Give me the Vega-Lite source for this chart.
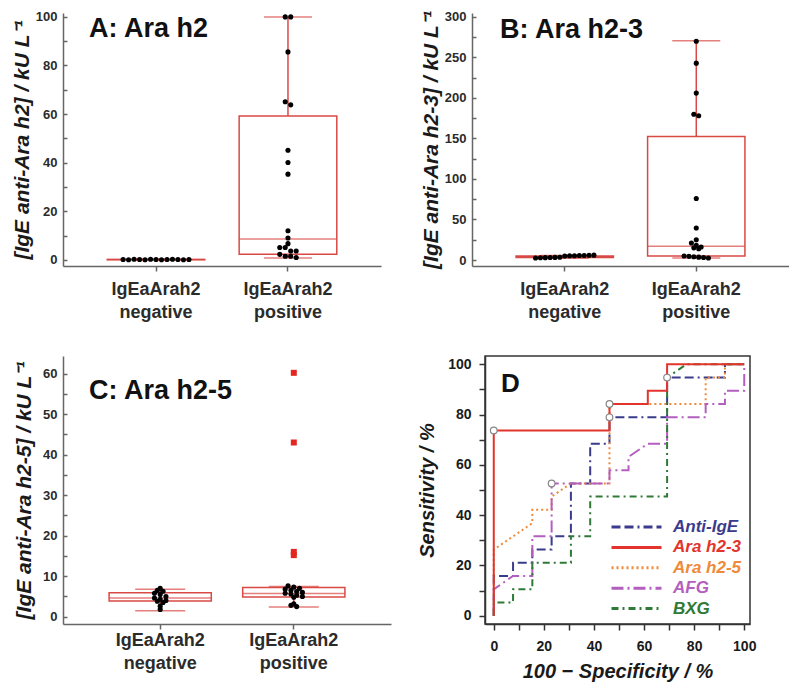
{
  "$schema": "https://vega.github.io/schema/vega-lite/v6.json",
  "background": "white",
  "padding": {"left": 11, "top": 10, "right": 0, "bottom": 0},
  "config": {
    "font": "Liberation Sans",
    "view": {"stroke": null},
    "axis": {"labelFont": "Liberation Sans", "labelFontWeight": "bold", "titleFont": "Liberation Sans", "titleFontWeight": "bold", "domainColor": "#666", "tickColor": "#666", "labelColor": "#2b2b2b", "titleColor": "#1a1a1a", "grid": false, "domainWidth": 1.5, "tickWidth": 1.5, "labelFlush": false, "labelOverlap": false, "labelBound": false},
    "title": {"font": "Liberation Sans", "fontWeight": "bold", "color": "#111"}
  },
  "datasets": {
    "pts": [
      {"panel": "A", "group": "negative", "value": 0.2}, {"panel": "A", "group": "negative", "value": 0.1}, {"panel": "A", "group": "negative", "value": 0.3}, {"panel": "A", "group": "negative", "value": 0.2}, {"panel": "A", "group": "negative", "value": 0.1}, {"panel": "A", "group": "negative", "value": 0.3}, {"panel": "A", "group": "negative", "value": 0.2}, {"panel": "A", "group": "negative", "value": 0.1}, {"panel": "A", "group": "negative", "value": 0.2}, {"panel": "A", "group": "negative", "value": 0.3}, {"panel": "A", "group": "negative", "value": 0.2}, {"panel": "A", "group": "negative", "value": 0.1}, {"panel": "A", "group": "negative", "value": 0.2},
      {"panel": "A", "group": "positive", "value": 100}, {"panel": "A", "group": "positive", "value": 100}, {"panel": "A", "group": "positive", "value": 85.6}, {"panel": "A", "group": "positive", "value": 65.1}, {"panel": "A", "group": "positive", "value": 63.8}, {"panel": "A", "group": "positive", "value": 45.1}, {"panel": "A", "group": "positive", "value": 40.1}, {"panel": "A", "group": "positive", "value": 35.3}, {"panel": "A", "group": "positive", "value": 12}, {"panel": "A", "group": "positive", "value": 9}, {"panel": "A", "group": "positive", "value": 6.7}, {"panel": "A", "group": "positive", "value": 5.1}, {"panel": "A", "group": "positive", "value": 5.1}, {"panel": "A", "group": "positive", "value": 3.7}, {"panel": "A", "group": "positive", "value": 3.7}, {"panel": "A", "group": "positive", "value": 2.3}, {"panel": "A", "group": "positive", "value": 1.5}, {"panel": "A", "group": "positive", "value": 1.5}, {"panel": "A", "group": "positive", "value": 1.0},
      {"panel": "B", "group": "negative", "value": 2.5}, {"panel": "B", "group": "negative", "value": 2.7}, {"panel": "B", "group": "negative", "value": 2.9}, {"panel": "B", "group": "negative", "value": 3.0}, {"panel": "B", "group": "negative", "value": 3.2}, {"panel": "B", "group": "negative", "value": 3.4}, {"panel": "B", "group": "negative", "value": 5.0}, {"panel": "B", "group": "negative", "value": 5.2}, {"panel": "B", "group": "negative", "value": 5.3}, {"panel": "B", "group": "negative", "value": 5.5}, {"panel": "B", "group": "negative", "value": 5.6}, {"panel": "B", "group": "negative", "value": 5.8}, {"panel": "B", "group": "negative", "value": 6.0},
      {"panel": "B", "group": "positive", "value": 270}, {"panel": "B", "group": "positive", "value": 243}, {"panel": "B", "group": "positive", "value": 206}, {"panel": "B", "group": "positive", "value": 180}, {"panel": "B", "group": "positive", "value": 178}, {"panel": "B", "group": "positive", "value": 76}, {"panel": "B", "group": "positive", "value": 39.5}, {"panel": "B", "group": "positive", "value": 25}, {"panel": "B", "group": "positive", "value": 21}, {"panel": "B", "group": "positive", "value": 18}, {"panel": "B", "group": "positive", "value": 16}, {"panel": "B", "group": "positive", "value": 15}, {"panel": "B", "group": "positive", "value": 14}, {"panel": "B", "group": "positive", "value": 5}, {"panel": "B", "group": "positive", "value": 4.5}, {"panel": "B", "group": "positive", "value": 4}, {"panel": "B", "group": "positive", "value": 3.5}, {"panel": "B", "group": "positive", "value": 3}, {"panel": "B", "group": "positive", "value": 2.5},
      {"panel": "C", "group": "negative", "value": 7.0}, {"panel": "C", "group": "negative", "value": 6.5}, {"panel": "C", "group": "negative", "value": 6.3}, {"panel": "C", "group": "negative", "value": 5.8}, {"panel": "C", "group": "negative", "value": 5.5}, {"panel": "C", "group": "negative", "value": 5.0}, {"panel": "C", "group": "negative", "value": 4.6}, {"panel": "C", "group": "negative", "value": 4.3}, {"panel": "C", "group": "negative", "value": 4.0}, {"panel": "C", "group": "negative", "value": 3.8}, {"panel": "C", "group": "negative", "value": 3.5}, {"panel": "C", "group": "negative", "value": 2.6}, {"panel": "C", "group": "negative", "value": 1.8},
      {"panel": "C", "group": "positive", "value": 7.6}, {"panel": "C", "group": "positive", "value": 7.3}, {"panel": "C", "group": "positive", "value": 7.0}, {"panel": "C", "group": "positive", "value": 6.8}, {"panel": "C", "group": "positive", "value": 6.5}, {"panel": "C", "group": "positive", "value": 6.2}, {"panel": "C", "group": "positive", "value": 6.0}, {"panel": "C", "group": "positive", "value": 5.8}, {"panel": "C", "group": "positive", "value": 5.6}, {"panel": "C", "group": "positive", "value": 5.3}, {"panel": "C", "group": "positive", "value": 5.0}, {"panel": "C", "group": "positive", "value": 4.8}, {"panel": "C", "group": "positive", "value": 3.2}, {"panel": "C", "group": "positive", "value": 2.8}, {"panel": "C", "group": "positive", "value": 2.5}
    ],
    "box": [
      {"panel": "A", "group": "negative", "lower": 0.0, "q1": 0.1, "median": 0.2, "q3": 0.2, "upper": 0.3},
      {"panel": "A", "group": "positive", "lower": 0.8, "q1": 2.3, "median": 8.6, "q3": 59.2, "upper": 100},
      {"panel": "B", "group": "negative", "lower": 2.3, "q1": 3.0, "median": 4.0, "q3": 5.0, "upper": 5.5},
      {"panel": "B", "group": "positive", "lower": 2.5, "q1": 5.0, "median": 17, "q3": 152.5, "upper": 270.5},
      {"panel": "C", "group": "negative", "lower": 1.5, "q1": 3.9, "median": 4.6, "q3": 5.9, "upper": 6.8},
      {"panel": "C", "group": "positive", "lower": 2.4, "q1": 4.85, "median": 5.75, "q3": 7.2, "upper": 7.45}
    ],
    "outl": [
      {"panel": "C", "group": "positive", "value": 60.2},
      {"panel": "C", "group": "positive", "value": 43.0},
      {"panel": "C", "group": "positive", "value": 16.0},
      {"panel": "C", "group": "positive", "value": 15.2}
    ],
    "roc": [
      {"test": "Anti-IgE", "i": 0, "fpr": 0, "sens": 0}, {"test": "Anti-IgE", "i": 1, "fpr": 0, "sens": 15.8}, {"test": "Anti-IgE", "i": 2, "fpr": 7.7, "sens": 15.8}, {"test": "Anti-IgE", "i": 3, "fpr": 7.7, "sens": 21.1}, {"test": "Anti-IgE", "i": 4, "fpr": 15.4, "sens": 21.1}, {"test": "Anti-IgE", "i": 5, "fpr": 15.4, "sens": 26.3}, {"test": "Anti-IgE", "i": 6, "fpr": 23.1, "sens": 26.3}, {"test": "Anti-IgE", "i": 7, "fpr": 23.1, "sens": 31.6}, {"test": "Anti-IgE", "i": 8, "fpr": 30.8, "sens": 31.6}, {"test": "Anti-IgE", "i": 9, "fpr": 30.8, "sens": 52.6}, {"test": "Anti-IgE", "i": 10, "fpr": 38.5, "sens": 52.6}, {"test": "Anti-IgE", "i": 11, "fpr": 38.5, "sens": 68.4}, {"test": "Anti-IgE", "i": 12, "fpr": 46.2, "sens": 68.4}, {"test": "Anti-IgE", "i": 13, "fpr": 46.2, "sens": 78.9}, {"test": "Anti-IgE", "i": 14, "fpr": 69.2, "sens": 78.9}, {"test": "Anti-IgE", "i": 15, "fpr": 69.2, "sens": 94.7}, {"test": "Anti-IgE", "i": 16, "fpr": 92.3, "sens": 94.7}, {"test": "Anti-IgE", "i": 17, "fpr": 92.3, "sens": 100}, {"test": "Anti-IgE", "i": 18, "fpr": 100, "sens": 100},
      {"test": "Ara h2-5", "i": 0, "fpr": 0, "sens": 0}, {"test": "Ara h2-5", "i": 1, "fpr": 0, "sens": 26.3}, {"test": "Ara h2-5", "i": 2, "fpr": 15.4, "sens": 36.8}, {"test": "Ara h2-5", "i": 3, "fpr": 15.4, "sens": 42.1}, {"test": "Ara h2-5", "i": 4, "fpr": 23.1, "sens": 42.1}, {"test": "Ara h2-5", "i": 5, "fpr": 23.1, "sens": 47.4}, {"test": "Ara h2-5", "i": 6, "fpr": 30.8, "sens": 52.6}, {"test": "Ara h2-5", "i": 7, "fpr": 46.2, "sens": 52.6}, {"test": "Ara h2-5", "i": 8, "fpr": 46.2, "sens": 84.2}, {"test": "Ara h2-5", "i": 9, "fpr": 84.6, "sens": 84.2}, {"test": "Ara h2-5", "i": 10, "fpr": 84.6, "sens": 94.7}, {"test": "Ara h2-5", "i": 11, "fpr": 92.3, "sens": 94.7}, {"test": "Ara h2-5", "i": 12, "fpr": 92.3, "sens": 100}, {"test": "Ara h2-5", "i": 13, "fpr": 100, "sens": 100},
      {"test": "AFG", "i": 0, "fpr": 0, "sens": 0}, {"test": "AFG", "i": 1, "fpr": 0, "sens": 10.5}, {"test": "AFG", "i": 2, "fpr": 7.7, "sens": 15.8}, {"test": "AFG", "i": 3, "fpr": 15.4, "sens": 15.8}, {"test": "AFG", "i": 4, "fpr": 15.4, "sens": 31.6}, {"test": "AFG", "i": 5, "fpr": 23.1, "sens": 31.6}, {"test": "AFG", "i": 6, "fpr": 23.1, "sens": 52.6}, {"test": "AFG", "i": 7, "fpr": 46.2, "sens": 52.6}, {"test": "AFG", "i": 8, "fpr": 46.2, "sens": 57.9}, {"test": "AFG", "i": 9, "fpr": 53.8, "sens": 57.9}, {"test": "AFG", "i": 10, "fpr": 53.8, "sens": 63.2}, {"test": "AFG", "i": 11, "fpr": 61.5, "sens": 68.4}, {"test": "AFG", "i": 12, "fpr": 69.2, "sens": 68.4}, {"test": "AFG", "i": 13, "fpr": 69.2, "sens": 78.9}, {"test": "AFG", "i": 14, "fpr": 84.6, "sens": 78.9}, {"test": "AFG", "i": 15, "fpr": 84.6, "sens": 84.2}, {"test": "AFG", "i": 16, "fpr": 92.3, "sens": 84.2}, {"test": "AFG", "i": 17, "fpr": 92.3, "sens": 89.5}, {"test": "AFG", "i": 18, "fpr": 100, "sens": 89.5}, {"test": "AFG", "i": 19, "fpr": 100, "sens": 100},
      {"test": "BXG", "i": 0, "fpr": 0, "sens": 0}, {"test": "BXG", "i": 1, "fpr": 0, "sens": 5.3}, {"test": "BXG", "i": 2, "fpr": 7.7, "sens": 5.3}, {"test": "BXG", "i": 3, "fpr": 7.7, "sens": 10.5}, {"test": "BXG", "i": 4, "fpr": 15.4, "sens": 10.5}, {"test": "BXG", "i": 5, "fpr": 15.4, "sens": 21.1}, {"test": "BXG", "i": 6, "fpr": 30.8, "sens": 21.1}, {"test": "BXG", "i": 7, "fpr": 30.8, "sens": 31.6}, {"test": "BXG", "i": 8, "fpr": 38.5, "sens": 31.6}, {"test": "BXG", "i": 9, "fpr": 38.5, "sens": 47.4}, {"test": "BXG", "i": 10, "fpr": 69.2, "sens": 47.4}, {"test": "BXG", "i": 11, "fpr": 69.2, "sens": 94.7}, {"test": "BXG", "i": 12, "fpr": 76.9, "sens": 100}, {"test": "BXG", "i": 13, "fpr": 100, "sens": 100},
      {"test": "Ara h2-3", "i": 0, "fpr": 0, "sens": 0}, {"test": "Ara h2-3", "i": 1, "fpr": 0, "sens": 73.7}, {"test": "Ara h2-3", "i": 2, "fpr": 46.2, "sens": 73.7}, {"test": "Ara h2-3", "i": 3, "fpr": 46.2, "sens": 84.2}, {"test": "Ara h2-3", "i": 4, "fpr": 61.5, "sens": 84.2}, {"test": "Ara h2-3", "i": 5, "fpr": 61.5, "sens": 89.5}, {"test": "Ara h2-3", "i": 6, "fpr": 69.2, "sens": 89.5}, {"test": "Ara h2-3", "i": 7, "fpr": 69.2, "sens": 100}, {"test": "Ara h2-3", "i": 8, "fpr": 100, "sens": 100}
    ],
    "cut": [
      {"test": "Ara h2-3", "fpr": 0, "sens": 73.7},
      {"test": "Ara h2-3", "fpr": 46.2, "sens": 84.2},
      {"test": "Anti-IgE", "fpr": 46.2, "sens": 78.9},
      {"test": "AFG", "fpr": 23.1, "sens": 52.6},
      {"test": "BXG", "fpr": 69.2, "sens": 94.7}
    ]
  },
  "spacing": 34,
  "vconcat": [
    {
      "spacing": 39,
      "hconcat": [
        {
          "width": 318, "height": 253,
          "title": {"text": "A: Ara h2", "anchor": "start", "frame": "group", "offset": -32, "dx": 26, "fontSize": 27},
          "resolve": {"scale": {"xOffset": "independent"}},
          "encoding": {
            "x": {"field": "group", "type": "nominal", "scale": {"type": "band", "domain": ["negative", "positive"], "paddingInner": 0.26, "paddingOuter": 0.335}, "axis": {"title": null, "labelExpr": "['IgEaArah2', datum.label]", "labelAngle": 0, "labelFontSize": 18, "labelLineHeight": 23, "labelPadding": 9, "tickSize": 5}}
          },
          "layer": [
            {"data": {"name": "box"}, "transform": [{"filter": "datum.panel == 'A'"}], "mark": {"type": "rule", "color": "#d94a45", "strokeWidth": 1.5},
             "encoding": {"y": {"field": "lower", "type": "quantitative", "scale": {"domain": [-2.5, 101.6], "nice": false, "zero": false}, "axis": {"title": "[IgE anti-Ara h2] / kU L⁻¹", "titleFontStyle": "italic", "titleFontSize": 21, "titlePadding": 3, "values": [0, 10, 20, 30, 40, 50, 60, 70, 80, 90, 100], "labelExpr": "datum.value % 20 == 0 ? datum.label : ''", "labelFontSize": 13, "tickSize": -4, "labelPadding": 10}}, "y2": {"field": "upper"}}},
            {"data": {"name": "box"}, "transform": [{"filter": "datum.panel == 'A'"}, {"fold": ["lower", "upper"], "as": ["stat", "yv"]}], "mark": {"type": "tick", "color": "#d94a45", "thickness": 1.5, "size": 48},
             "encoding": {"y": {"field": "yv", "type": "quantitative", "scale": {"domain": [-2.5, 101.6], "nice": false, "zero": false}, "axis": {"title": "[IgE anti-Ara h2] / kU L⁻¹", "titleFontStyle": "italic", "titleFontSize": 21, "titlePadding": 3, "values": [0, 10, 20, 30, 40, 50, 60, 70, 80, 90, 100], "labelExpr": "datum.value % 20 == 0 ? datum.label : ''", "labelFontSize": 13, "tickSize": -4, "labelPadding": 10}}}},
            {"data": {"name": "box"}, "transform": [{"filter": "datum.panel == 'A'"}], "mark": {"type": "bar", "fill": "white", "stroke": "#d94a45", "strokeWidth": 1.5, "width": {"band": 1}},
             "encoding": {"y": {"field": "q1", "type": "quantitative", "scale": {"domain": [-2.5, 101.6], "nice": false, "zero": false}, "axis": {"title": "[IgE anti-Ara h2] / kU L⁻¹", "titleFontStyle": "italic", "titleFontSize": 21, "titlePadding": 3, "values": [0, 10, 20, 30, 40, 50, 60, 70, 80, 90, 100], "labelExpr": "datum.value % 20 == 0 ? datum.label : ''", "labelFontSize": 13, "tickSize": -4, "labelPadding": 10}}, "y2": {"field": "q3"}}},
            {"data": {"name": "box"}, "transform": [{"filter": "datum.panel == 'A'"}], "mark": {"type": "tick", "color": "#d94a45", "thickness": 1.5, "size": 98},
             "encoding": {"y": {"field": "median", "type": "quantitative", "scale": {"domain": [-2.5, 101.6], "nice": false, "zero": false}, "axis": {"title": "[IgE anti-Ara h2] / kU L⁻¹", "titleFontStyle": "italic", "titleFontSize": 21, "titlePadding": 3, "values": [0, 10, 20, 30, 40, 50, 60, 70, 80, 90, 100], "labelExpr": "datum.value % 20 == 0 ? datum.label : ''", "labelFontSize": 13, "tickSize": -4, "labelPadding": 10}}}},
            {"data": {"name": "pts"}, "transform": [{"filter": "datum.panel == 'A'"}, {"bin": {"step": 3}, "field": "value", "as": "vb"}, {"window": [{"op": "row_number", "as": "r"}], "groupby": ["group", "vb"]}, {"joinaggregate": [{"op": "count", "as": "n"}], "groupby": ["group", "vb"]}, {"calculate": "datum.r - (datum.n + 1) / 2", "as": "off"}],
             "mark": {"type": "circle", "size": 26, "color": "#000", "opacity": 1},
             "encoding": {"xOffset": {"field": "off", "type": "quantitative", "scale": {"domain": [-8.9, 8.9]}}, "y": {"field": "value", "type": "quantitative", "scale": {"domain": [-2.5, 101.6], "nice": false, "zero": false}, "axis": {"title": "[IgE anti-Ara h2] / kU L⁻¹", "titleFontStyle": "italic", "titleFontSize": 21, "titlePadding": 3, "values": [0, 10, 20, 30, 40, 50, 60, 70, 80, 90, 100], "labelExpr": "datum.value % 20 == 0 ? datum.label : ''", "labelFontSize": 13, "tickSize": -4, "labelPadding": 10}}}}
          ]
        },
        {
          "width": 317, "height": 253,
          "title": {"text": "B: Ara h2-3", "anchor": "start", "frame": "group", "offset": -33, "dx": 28, "fontSize": 27},
          "resolve": {"scale": {"xOffset": "independent"}},
          "encoding": {
            "x": {"field": "group", "type": "nominal", "scale": {"type": "band", "domain": ["negative", "positive"], "paddingInner": 0.26, "paddingOuter": 0.335}, "axis": {"title": null, "labelExpr": "['IgEaArah2', datum.label]", "labelAngle": 0, "labelFontSize": 18, "labelLineHeight": 23, "labelPadding": 9, "tickSize": 5}}
          },
          "layer": [
            {"data": {"name": "box"}, "transform": [{"filter": "datum.panel == 'B'"}], "mark": {"type": "rule", "color": "#d94a45", "strokeWidth": 1.5},
             "encoding": {"y": {"field": "lower", "type": "quantitative", "scale": {"domain": [-7.4, 304.9], "nice": false, "zero": false}, "axis": {"title": "[IgE anti-Ara h2-3] / kU L⁻¹", "titleFontStyle": "italic", "titleFontSize": 21, "titlePadding": 3, "values": [0, 25, 50, 75, 100, 125, 150, 175, 200, 225, 250, 275, 300], "labelExpr": "datum.value % 50 == 0 ? datum.label : ''", "labelFontSize": 13, "tickSize": -4, "labelPadding": 10}}, "y2": {"field": "upper"}}},
            {"data": {"name": "box"}, "transform": [{"filter": "datum.panel == 'B'"}, {"fold": ["lower", "upper"], "as": ["stat", "yv"]}], "mark": {"type": "tick", "color": "#d94a45", "thickness": 1.5, "size": 48},
             "encoding": {"y": {"field": "yv", "type": "quantitative", "scale": {"domain": [-7.4, 304.9], "nice": false, "zero": false}, "axis": {"title": "[IgE anti-Ara h2-3] / kU L⁻¹", "titleFontStyle": "italic", "titleFontSize": 21, "titlePadding": 3, "values": [0, 25, 50, 75, 100, 125, 150, 175, 200, 225, 250, 275, 300], "labelExpr": "datum.value % 50 == 0 ? datum.label : ''", "labelFontSize": 13, "tickSize": -4, "labelPadding": 10}}}},
            {"data": {"name": "box"}, "transform": [{"filter": "datum.panel == 'B'"}], "mark": {"type": "bar", "fill": "white", "stroke": "#d94a45", "strokeWidth": 1.5, "width": {"band": 1}},
             "encoding": {"y": {"field": "q1", "type": "quantitative", "scale": {"domain": [-7.4, 304.9], "nice": false, "zero": false}, "axis": {"title": "[IgE anti-Ara h2-3] / kU L⁻¹", "titleFontStyle": "italic", "titleFontSize": 21, "titlePadding": 3, "values": [0, 25, 50, 75, 100, 125, 150, 175, 200, 225, 250, 275, 300], "labelExpr": "datum.value % 50 == 0 ? datum.label : ''", "labelFontSize": 13, "tickSize": -4, "labelPadding": 10}}, "y2": {"field": "q3"}}},
            {"data": {"name": "box"}, "transform": [{"filter": "datum.panel == 'B'"}], "mark": {"type": "tick", "color": "#d94a45", "thickness": 1.5, "size": 97},
             "encoding": {"y": {"field": "median", "type": "quantitative", "scale": {"domain": [-7.4, 304.9], "nice": false, "zero": false}, "axis": {"title": "[IgE anti-Ara h2-3] / kU L⁻¹", "titleFontStyle": "italic", "titleFontSize": 21, "titlePadding": 3, "values": [0, 25, 50, 75, 100, 125, 150, 175, 200, 225, 250, 275, 300], "labelExpr": "datum.value % 50 == 0 ? datum.label : ''", "labelFontSize": 13, "tickSize": -4, "labelPadding": 10}}}},
            {"data": {"name": "pts"}, "transform": [{"filter": "datum.panel == 'B'"}, {"bin": {"step": 8}, "field": "value", "as": "vb"}, {"window": [{"op": "row_number", "as": "r"}], "groupby": ["group", "vb"]}, {"joinaggregate": [{"op": "count", "as": "n"}], "groupby": ["group", "vb"]}, {"calculate": "datum.r - (datum.n + 1) / 2", "as": "off"}],
             "mark": {"type": "circle", "size": 26, "color": "#000", "opacity": 1},
             "encoding": {"xOffset": {"field": "off", "type": "quantitative", "scale": {"domain": [-10, 10]}}, "y": {"field": "value", "type": "quantitative", "scale": {"domain": [-7.4, 304.9], "nice": false, "zero": false}, "axis": {"title": "[IgE anti-Ara h2-3] / kU L⁻¹", "titleFontStyle": "italic", "titleFontSize": 21, "titlePadding": 3, "values": [0, 25, 50, 75, 100, 125, 150, 175, 200, 225, 250, 275, 300], "labelExpr": "datum.value % 50 == 0 ? datum.label : ''", "labelFontSize": 13, "tickSize": -4, "labelPadding": 10}}}}
          ]
        }
      ]
    },
    {
      "spacing": 25,
      "hconcat": [
        {
          "width": 328, "height": 268,
          "title": {"text": "C: Ara h2-5", "anchor": "start", "frame": "group", "offset": -49, "dx": 26, "fontSize": 27},
          "resolve": {"scale": {"xOffset": "independent"}},
          "encoding": {
            "x": {"field": "group", "type": "nominal", "scale": {"type": "band", "domain": ["negative", "positive"], "paddingInner": 0.235, "paddingOuter": 0.345}, "axis": {"title": null, "labelExpr": "['IgEaArah2', datum.label]", "labelAngle": 0, "labelFontSize": 18, "labelLineHeight": 23, "labelPadding": 2, "tickSize": 5}}
          },
          "layer": [
            {"data": {"name": "box"}, "transform": [{"filter": "datum.panel == 'C'"}], "mark": {"type": "rule", "color": "#d94a45", "strokeWidth": 1.5},
             "encoding": {"y": {"field": "lower", "type": "quantitative", "scale": {"domain": [-1.8, 64.35], "nice": false, "zero": false}, "axis": {"title": "[IgE anti-Ara h2-5] / kU L⁻¹", "titleFontStyle": "italic", "titleFontSize": 21, "titlePadding": 8, "values": [0, 5, 10, 15, 20, 25, 30, 35, 40, 45, 50, 55, 60], "labelExpr": "datum.value % 10 == 0 ? datum.label : ''", "labelFontSize": 13, "tickSize": -4, "labelPadding": 10}}, "y2": {"field": "upper"}}},
            {"data": {"name": "box"}, "transform": [{"filter": "datum.panel == 'C'"}, {"fold": ["lower", "upper"], "as": ["stat", "yv"]}], "mark": {"type": "tick", "color": "#d94a45", "thickness": 1.5, "size": 50},
             "encoding": {"y": {"field": "yv", "type": "quantitative", "scale": {"domain": [-1.8, 64.35], "nice": false, "zero": false}, "axis": {"title": "[IgE anti-Ara h2-5] / kU L⁻¹", "titleFontStyle": "italic", "titleFontSize": 21, "titlePadding": 8, "values": [0, 5, 10, 15, 20, 25, 30, 35, 40, 45, 50, 55, 60], "labelExpr": "datum.value % 10 == 0 ? datum.label : ''", "labelFontSize": 13, "tickSize": -4, "labelPadding": 10}}}},
            {"data": {"name": "box"}, "transform": [{"filter": "datum.panel == 'C'"}], "mark": {"type": "bar", "fill": "white", "stroke": "#d94a45", "strokeWidth": 1.5, "width": {"band": 1}},
             "encoding": {"y": {"field": "q1", "type": "quantitative", "scale": {"domain": [-1.8, 64.35], "nice": false, "zero": false}, "axis": {"title": "[IgE anti-Ara h2-5] / kU L⁻¹", "titleFontStyle": "italic", "titleFontSize": 21, "titlePadding": 8, "values": [0, 5, 10, 15, 20, 25, 30, 35, 40, 45, 50, 55, 60], "labelExpr": "datum.value % 10 == 0 ? datum.label : ''", "labelFontSize": 13, "tickSize": -4, "labelPadding": 10}}, "y2": {"field": "q3"}}},
            {"data": {"name": "box"}, "transform": [{"filter": "datum.panel == 'C'"}], "mark": {"type": "tick", "color": "#d94a45", "thickness": 1.5, "size": 102},
             "encoding": {"y": {"field": "median", "type": "quantitative", "scale": {"domain": [-1.8, 64.35], "nice": false, "zero": false}, "axis": {"title": "[IgE anti-Ara h2-5] / kU L⁻¹", "titleFontStyle": "italic", "titleFontSize": 21, "titlePadding": 8, "values": [0, 5, 10, 15, 20, 25, 30, 35, 40, 45, 50, 55, 60], "labelExpr": "datum.value % 10 == 0 ? datum.label : ''", "labelFontSize": 13, "tickSize": -4, "labelPadding": 10}}}},
            {"data": {"name": "outl"}, "mark": {"type": "square", "size": 36, "color": "#e3261f", "opacity": 1, "filled": true},
             "encoding": {"y": {"field": "value", "type": "quantitative", "scale": {"domain": [-1.8, 64.35], "nice": false, "zero": false}, "axis": {"title": "[IgE anti-Ara h2-5] / kU L⁻¹", "titleFontStyle": "italic", "titleFontSize": 21, "titlePadding": 8, "values": [0, 5, 10, 15, 20, 25, 30, 35, 40, 45, 50, 55, 60], "labelExpr": "datum.value % 10 == 0 ? datum.label : ''", "labelFontSize": 13, "tickSize": -4, "labelPadding": 10}}}},
            {"data": {"name": "pts"}, "transform": [{"filter": "datum.panel == 'C'"}, {"bin": {"step": 1}, "field": "value", "as": "vb"}, {"window": [{"op": "row_number", "as": "r"}], "groupby": ["group", "vb"]}, {"joinaggregate": [{"op": "count", "as": "n"}], "groupby": ["group", "vb"]}, {"calculate": "datum.r - (datum.n + 1) / 2", "as": "off"}],
             "mark": {"type": "circle", "size": 26, "color": "#000", "opacity": 1},
             "encoding": {"xOffset": {"field": "off", "type": "quantitative", "scale": {"domain": [-8.9, 8.9]}}, "y": {"field": "value", "type": "quantitative", "scale": {"domain": [-1.8, 64.35], "nice": false, "zero": false}, "axis": {"title": "[IgE anti-Ara h2-5] / kU L⁻¹", "titleFontStyle": "italic", "titleFontSize": 21, "titlePadding": 8, "values": [0, 5, 10, 15, 20, 25, 30, 35, 40, 45, 50, 55, 60], "labelExpr": "datum.value % 10 == 0 ? datum.label : ''", "labelFontSize": 13, "tickSize": -4, "labelPadding": 10}}}}
          ]
        },
        {
          "width": 265, "height": 268,
          "view": {"stroke": "#333", "strokeWidth": 1.5},
          "title": {"text": "D", "anchor": "start", "frame": "group", "offset": -41, "dx": 16, "fontSize": 26},
          "layer": [
            {"data": {"name": "roc"}, "mark": {"type": "line", "strokeWidth": 2},
             "encoding": {
               "x": {"field": "fpr", "type": "quantitative", "scale": {"domain": [-3.5, 102.3], "nice": false, "zero": false}, "axis": {"title": "100 − Specificity / %", "titleFontStyle": "italic", "titleFontSize": 20, "titlePadding": 8, "values": [0, 10, 20, 30, 40, 50, 60, 70, 80, 90, 100], "labelExpr": "datum.value % 20 == 0 ? datum.label : ''", "labelFontSize": 14, "tickSize": 6, "labelPadding": 9, "domainColor": "#333", "tickColor": "#333", "labelColor": "#1a1a1a"}},
               "y": {"field": "sens", "type": "quantitative", "scale": {"domain": [-3.3, 103.3], "nice": false, "zero": false}, "axis": {"title": "Sensitivity / %", "titleFontStyle": "italic", "titleFontSize": 20, "titlePadding": 10, "values": [0, 10, 20, 30, 40, 50, 60, 70, 80, 90, 100], "labelExpr": "datum.value % 20 == 0 ? datum.label : ''", "labelFontSize": 14, "tickSize": 6, "labelPadding": 8, "domainColor": "#333", "tickColor": "#333", "labelColor": "#1a1a1a"}},
               "color": {"field": "test", "type": "nominal", "scale": {"domain": ["Anti-IgE", "Ara h2-3", "Ara h2-5", "AFG", "BXG"], "range": ["#3b3b8e", "#e3342b", "#ef8a3a", "#b35fbf", "#2f7a36"]},
                 "legend": {"title": null, "orient": "none", "legendX": 547, "legendY": 504, "symbolType": "stroke", "symbolSize": 2500, "symbolStrokeWidth": 3, "clipHeight": 20, "labelFontSize": 17, "labelFont": "Liberation Sans", "labelFontWeight": "bold", "labelFontStyle": "italic", "labelOffset": 10, "rowPadding": 0.4,
                   "encode": {"labels": {"update": {"fill": {"signal": "datum.value == 'Anti-IgE' ? '#3b3b8e' : datum.value == 'Ara h2-3' ? '#e3342b' : datum.value == 'Ara h2-5' ? '#ef8a3a' : datum.value == 'AFG' ? '#b35fbf' : '#2f7a36'"}}}}}},
               "strokeDash": {"field": "test", "type": "nominal", "scale": {"domain": ["Anti-IgE", "Ara h2-3", "Ara h2-5", "AFG", "BXG"], "range": [[9, 4, 9, 4, 2, 4], [1, 0], [2, 3], [12, 4, 2, 4], [7, 4, 2, 4]]},
                 "legend": {"title": null, "orient": "none", "legendX": 547, "legendY": 504, "symbolType": "stroke", "symbolSize": 2500, "symbolStrokeWidth": 3, "clipHeight": 20, "labelFontSize": 17, "labelFont": "Liberation Sans", "labelFontWeight": "bold", "labelFontStyle": "italic", "labelOffset": 10, "rowPadding": 0.4,
                   "encode": {"labels": {"update": {"fill": {"signal": "datum.value == 'Anti-IgE' ? '#3b3b8e' : datum.value == 'Ara h2-3' ? '#e3342b' : datum.value == 'Ara h2-5' ? '#ef8a3a' : datum.value == 'AFG' ? '#b35fbf' : '#2f7a36'"}}}}}},
               "order": {"field": "i", "type": "quantitative"}
             }},
            {"data": {"name": "cut"}, "mark": {"type": "point", "shape": "circle", "filled": true, "fill": "white", "stroke": "#888", "strokeWidth": 1.2, "size": 45, "opacity": 1},
             "encoding": {
               "x": {"field": "fpr", "type": "quantitative", "scale": {"domain": [-3.5, 102.3], "nice": false, "zero": false}, "axis": {"title": "100 − Specificity / %", "titleFontStyle": "italic", "titleFontSize": 20, "titlePadding": 8, "values": [0, 10, 20, 30, 40, 50, 60, 70, 80, 90, 100], "labelExpr": "datum.value % 20 == 0 ? datum.label : ''", "labelFontSize": 14, "tickSize": 6, "labelPadding": 9, "domainColor": "#333", "tickColor": "#333", "labelColor": "#1a1a1a"}},
               "y": {"field": "sens", "type": "quantitative", "scale": {"domain": [-3.3, 103.3], "nice": false, "zero": false}, "axis": {"title": "Sensitivity / %", "titleFontStyle": "italic", "titleFontSize": 20, "titlePadding": 10, "values": [0, 10, 20, 30, 40, 50, 60, 70, 80, 90, 100], "labelExpr": "datum.value % 20 == 0 ? datum.label : ''", "labelFontSize": 14, "tickSize": 6, "labelPadding": 8, "domainColor": "#333", "tickColor": "#333", "labelColor": "#1a1a1a"}}
             }}
          ]
        }
      ]
    }
  ]
}
